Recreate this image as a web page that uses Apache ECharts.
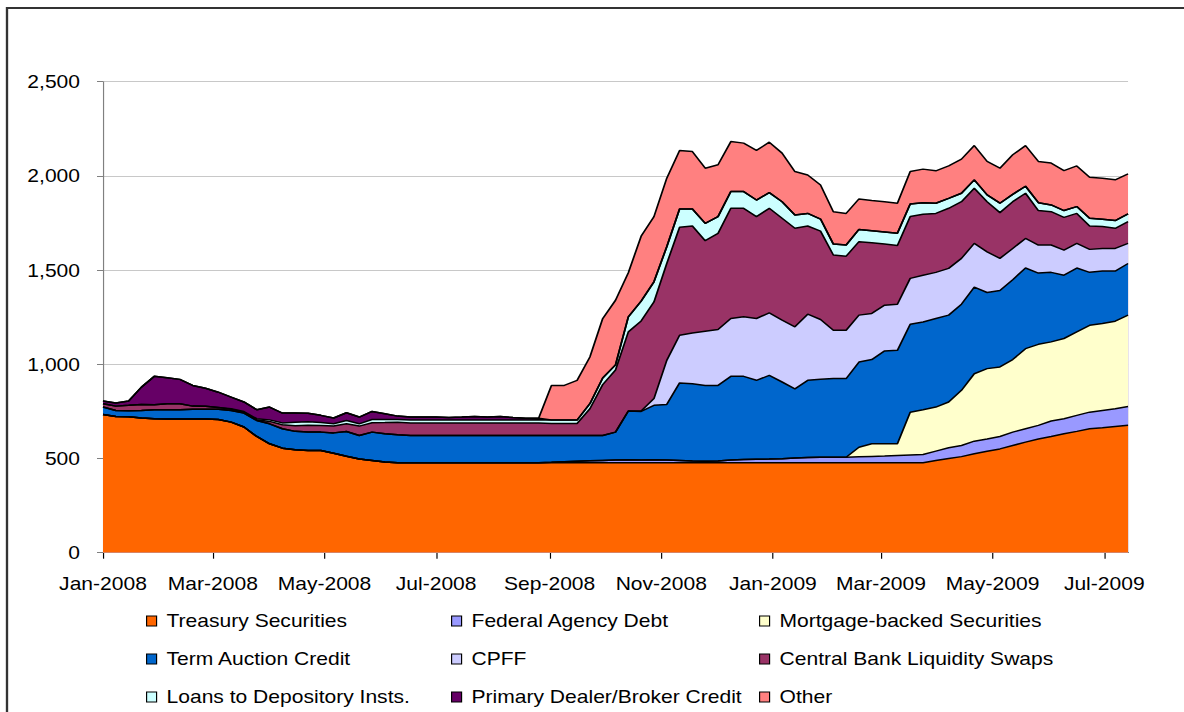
<!DOCTYPE html>
<html>
<head>
<meta charset="utf-8">
<script src="https://cdn.jsdelivr.net/npm/echarts@6/dist/echarts.min.js"></script>
<style>
  html, body { margin: 0; padding: 0; background: #fff; overflow: hidden; }
  #chart { position: absolute; left: 0; top: 0; height: 712px; transform-origin: 0 0; }
</style>
</head>
<body>
<div id="chart"></div>
<script>
// ---- Data (billions of dollars, weekly from 2 Jan 2008 to 15 Jul 2009) ----
const firstWeek = '2008-01-02';
const axisStart = '2008-01-02';
const axisEnd = '2009-07-15';

const tickDates = ['2008-01-02','2008-03-02','2008-05-02','2008-07-02','2008-09-02','2008-11-02','2009-01-02','2009-03-02','2009-05-02','2009-07-02'];
const tickLabels = ['Jan-2008','Mar-2008','May-2008','Jul-2008','Sep-2008','Nov-2008','Jan-2009','Mar-2009','May-2009','Jul-2009'];

const treasury = [734,723,722,715,711,709,709,709,709,707,693,667,617,578,555,
  546,543,543,528,512,497,489,481,477,
  477,477,477,477,477,477,477,477,477,477,477,477,477,477,477,477,477,477,477,477,477,477,477,477,477,477,477,477,477,477,477,477,477,477,477,477,477,477,477,477,477,
  489,500,510,525,539,551,569,587,604,617,631,644,658,663,670,676];
const agency = [0,0,0,0,0,0,0,0,0,0,0,0,0,0,0,0,0,0,0,0,0,0,0,0,0,0,0,0,0,0,0,0,0,0,
  1,3,6,9,11,13,15,16,
  15,16,15,13,10,8,10,15,18,19,20,22,25,28,30,
  30,30,32,34,36,39,42,44,50,57,59,
  67,65,66,71,71,72,82,80,85,88,92,94,100];
const mbs = [0,0,0,0,0,0,0,0,0,0,0,0,0,0,0,0,0,0,0,0,0,0,0,0,0,0,0,0,0,0,
  0,0,0,0,0,0,0,0,0,0,0,0,0,0,0,0,0,0,0,0,0,0,0,0,0,0,0,0,0,
  51,67,65,62,227,238,234,243,293,
  358,373,369,385,425,430,420,426,443,461,461,465,485];
const termAuction = [39,32,32,40,48,50,50,52,52,54,62,74,85,106,103,
  98,98,97,108,131,125,151,150,149,
  145,145,145,145,145,145,145,145,145,145,
  144,142,139,136,134,132,148,259,
  258,289,295,411,410,403,401,444,441,419,444,407,368,410,413,
  417,417,452,447,493,496,467,466,470,461,457,
  460,404,406,424,428,378,369,336,339,281,279,266,274];
const cpff = [0,0,0,0,0,0,0,0,0,0,0,0,0,0,0,0,0,0,0,0,0,0,0,0,0,0,0,0,0,0,0,0,0,0,0,0,0,0,0,0,0,0,
  2,36,234,253,269,288,297,307,316,328,332,328,329,351,318,
  257,257,249,245,243,245,243,248,245,248,243,
  232,216,170,166,157,149,145,133,131,122,120,120,107];
const swaps = [18,23,28,32,26,32,32,17,16,10,7,5,4,13,21,
  30,36,35,36,41,50,50,60,67,
  67,67,67,67,67,67,67,67,67,67,
  66,64,64,64,142,270,330,420,
  478,513,514,573,568,480,510,585,576,541,555,541,523,468,469,
  399,393,390,375,324,311,328,323,313,319,301,
  292,266,243,248,240,183,177,174,159,124,116,107,115];
const depository = [0,0,0,0,0,0,0,0,0,0,
  2,3,5,8,10,
  18,18,16,12,18,12,17,16,14,
  16,16,16,16,16,16,16,16,16,16,
  18,18,18,18,27,35,27,80,
  105,107,89,97,90,92,89,89,89,88,83,88,71,67,64,
  58,59,65,64,64,65,67,62,54,53,45,
  45,36,50,39,37,42,36,36,36,41,39,41,41];
const dealer = [14,16,23,92,151,138,129,110,96,81,62,51,48,68,52,
  49,45,38,31,41,36,43,31,18,
  15,15,15,13,15,18,15,18,12,8,
  8,
  0,0,0,0,0,0,0,0,0,0,0,0,0,0,0,0,0,0,0,0,0,0,0,0,0,0,0,0,0,0,0,0,0,0,0,0,0,0,0,0,0,0,0,0,0,0];
const other = [0,0,0,0,0,0,0,0,0,0,0,0,0,0,0,0,0,0,0,0,0,0,0,0,0,0,0,0,0,0,0,0,0,0,0,
  184,184,211,248,316,343,234,
  345,346,364,311,305,293,275,265,257,263,268,258,230,204,181,
  172,168,162,161,161,160,172,178,172,172,181,
  182,178,186,210,216,219,222,212,216,218,218,216,213];

const seriesNames = ['Treasury Securities','Federal Agency Debt','Mortgage-backed Securities',
  'Term Auction Credit','CPFF','Central Bank Liquidity Swaps',
  'Loans to Depository Insts.','Primary Dealer/Broker Credit','Other'];
const seriesValues = [treasury, agency, mbs, termAuction, cpff, swaps, depository, dealer, other];
const seriesColors = ['#ff6600','#9999ff','#ffffcc','#0066cc','#ccccff','#993366','#ccffff','#660066','#ff8080'];

// ---- Layout ----
const SX = 1.17;                 // horizontal stretch of the original picture
const W = 1184 / SX;
const el = document.getElementById('chart');
el.style.width = W + 'px';
el.style.transform = 'scaleX(' + SX + ')';

const DAY = 86400000;
const toTs = s => { const p = s.split('-').map(Number); return Date.UTC(p[0], p[1] - 1, p[2]); };
const t0 = toTs(firstWeek);
const weekTs = treasury.map((_, i) => t0 + i * 7 * DAY);
const tickTs = tickDates.map(toTs);

const FONT = '"Liberation Sans", Arial, sans-serif';
const px = v => v / SX;

// Cumulative (stacked) tops, built from the series arrays above
const cumulative = [];
seriesValues.forEach((vals, k) => {
  cumulative.push(vals.map((v, i) => v + (k > 0 ? cumulative[k - 1][i] : 0)));
});

const series = [];
// Areas: draw the highest stack level first so each lower layer paints over it
for (let k = seriesNames.length - 1; k >= 0; k--) {
  series.push({
    name: seriesNames[k], type: 'line', symbol: 'none', z: 2,
    data: weekTs.map((t, i) => [t, cumulative[k][i]]),
    lineStyle: { width: 0, color: seriesColors[k] },
    itemStyle: { color: seriesColors[k] },
    areaStyle: { color: seriesColors[k], opacity: 1, origin: 'start' },
    emphasis: { disabled: true }
  });
}
// Black outlines on every stack boundary
seriesNames.forEach((name, k) => {
  series.push({
    name: 'outline ' + name, type: 'line', symbol: 'none', z: 3,
    silent: true, data: weekTs.map((t, i) => [t, cumulative[k][i]]),
    lineStyle: { width: 1.5, color: '#000' },
    emphasis: { disabled: true }
  });
});

const legendBase = {
  orient: 'vertical', top: 611, height: 100, padding: 0, itemGap: 18,
  itemWidth: px(10), itemHeight: 10, icon: 'rect',
  itemStyle: { borderColor: '#000', borderWidth: 1 },
  textStyle: { fontFamily: FONT, fontSize: 18, lineHeight: 20, color: '#000', padding: [0, 0, 0, 3.5] },
  selectedMode: false
};

const chart = echarts.init(el, null, { renderer: 'svg' });
chart.setOption({
  animation: false,
  backgroundColor: '#fff',
  graphic: [{
    type: 'rect', silent: true,
    shape: { x: px(7), y: 8, width: 3000, height: 3000 },
    style: { fill: 'none', stroke: '#333', lineWidth: 2 }
  }],
  grid: { left: px(103), right: W - px(1128), top: 81.7, bottom: 712 - 552.7, containLabel: false },
  legend: [
    Object.assign({}, legendBase, { left: px(146), data: [seriesNames[0], seriesNames[3], seriesNames[6]] }),
    Object.assign({}, legendBase, { left: px(451), data: [seriesNames[1], seriesNames[4], seriesNames[7]] }),
    Object.assign({}, legendBase, { left: px(759), data: [seriesNames[2], seriesNames[5], seriesNames[8]] })
  ],
  xAxis: {
    type: 'value', min: toTs(axisStart), max: toTs(axisEnd),
    splitLine: { show: false },
    axisLine: { show: true, onZero: false, lineStyle: { color: '#000', width: 1 } },
    axisTick: { show: true, inside: false, length: 6, customValues: tickTs, lineStyle: { color: '#000' } },
    axisLabel: {
      customValues: tickTs, margin: 22, color: '#000', fontFamily: FONT, fontSize: 18,
      formatter: v => { const i = tickTs.indexOf(+v); return i >= 0 ? tickLabels[i] : ''; }
    }
  },
  yAxis: {
    type: 'value', min: 0, max: 2500, interval: 500,
    splitLine: { show: true, lineStyle: { color: '#c8c8c8', width: 1 } },
    axisLine: { show: true, lineStyle: { color: '#808080', width: 1 } },
    axisTick: { show: true, inside: false, length: px(6), lineStyle: { color: '#808080' } },
    axisLabel: { margin: px(23), color: '#000', fontFamily: FONT, fontSize: 18,
      formatter: v => v.toLocaleString('en-US') }
  },
  series: series
});
</script>
</body>
</html>
